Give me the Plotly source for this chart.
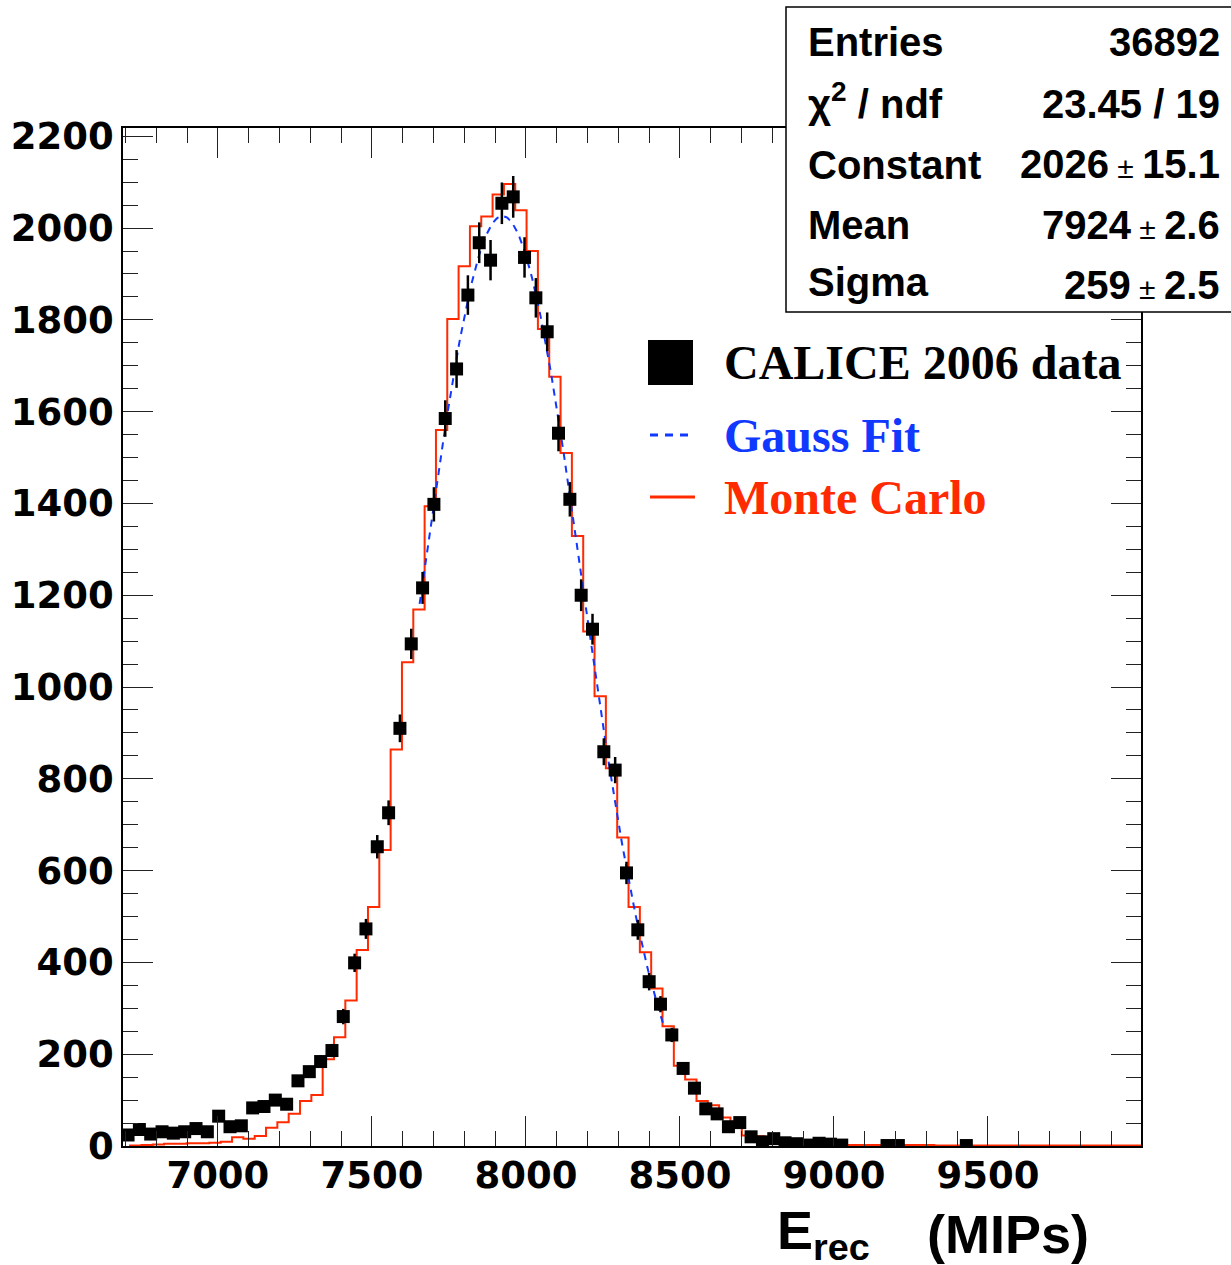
import math
import plotly.graph_objects as go

# ---------------- data ----------------
# CALICE data histogram: 90 bins between 6690 and 10000 MIPs
data_lo = 6690.0
data_hi = 10000.0
data_counts = [
    24, 36, 26, 31, 28, 31, 38, 31, 65, 42,
    44, 83, 86, 100, 91, 142, 162, 184, 208, 282,
    399, 473, 652, 726, 910, 1094, 1216, 1398, 1585, 1693,
    1854, 1968, 1930, 2054, 2068, 1936, 1848, 1774, 1553, 1409,
    1200, 1126, 859, 819, 595, 471, 358, 309, 242, 169,
    126, 81, 70, 42, 51, 20, 9, 16, 7, 5,
    2, 6, 4, 2, 0, 0, 0, 1, 1, 0,
    0, 0, 0, 0, 1, 0, 0, 0, 0, 0,
    0, 0, 0, 0, 0, 0, 0, 0, 0, 0,
]

# Monte Carlo histogram (same bin width, shifted start)
mc_lo = 6715.0
mc_counts = [
    1, 2, 3, 5, 5, 6, 6, 7, 9, 19,
    16, 22, 40, 52, 70, 98, 111, 189, 237, 317,
    427, 521, 645, 864, 1054, 1169, 1394, 1560, 1802, 1917,
    2004, 2025, 2073, 2096, 2039, 1950, 1780, 1676, 1510, 1329,
    1121, 980, 823, 672, 521, 422, 343, 261, 175, 145,
    98, 89, 62, 53, 23, 21, 8, 7, 5, 4,
    3, 3, 2, 2, 2, 2, 2, 2, 2, 2,
    2, 1, 1, 1, 1, 1, 1, 1, 1, 1,
    1, 1, 1, 1, 1, 1, 1, 1, 1, 1,
]

# Gaussian fit parameters (from the stats box)
fit_constant = 2026.0
fit_mean = 7924.0
fit_sigma = 259.0
fit_range = [7655.0, 8445.0]

x_range = [6692.0, 9997.0]
y_range = [0.0, 2218.0]
x_tickvals = [7000, 7500, 8000, 8500, 9000, 9500]
y_tickvals = [0, 200, 400, 600, 800, 1000, 1200, 1400, 1600, 1800, 2000, 2200]

stats_labels = ["Entries", "χ<sup>2</sup> / ndf", "Constant", "Mean", "Sigma"]
stats_main = ["36892", "23.45 / 19", "2026", "7924", "259"]
stats_err = [None, None, "15.1", "2.6", "2.5"]

legend_labels = ["CALICE 2006 data", "Gauss Fit", "Monte Carlo"]

RED = "#ff2a00"
BLUE = "#1038ff"

# ---------------- derived ----------------
nbins = len(data_counts)
bw = (data_hi - data_lo) / nbins
centers = [data_lo + bw * (i + 0.5) for i in range(nbins)]
dx = [c for c, n in zip(centers, data_counts) if n > 0]
dy = [n for n in data_counts if n > 0]
derr = [math.sqrt(n) for n in dy]

mc_edges = [mc_lo + bw * j for j in range(len(mc_counts) + 1)]
mc_x = [mc_edges[0]] + mc_edges
mc_y = [0] + mc_counts + [mc_counts[-1]]

nfit = 200
fx = [fit_range[0] + (fit_range[1] - fit_range[0]) * k / (nfit - 1) for k in range(nfit)]
fy = [fit_constant * math.exp(-0.5 * ((x - fit_mean) / fit_sigma) ** 2) for x in fx]

# ---------------- layout geometry ----------------
W, H = 1231, 1265
L, R, T, B = 123, 1141, 128, 1146
PW, PH = R - L, B - T


def px(xp):
    return (xp - L) / PW


def py(yp):
    return (B - yp) / PH


fig = go.Figure()

fig.add_trace(go.Scatter(
    x=mc_x, y=mc_y, mode="lines", line=dict(color=RED, width=2, shape="hv"),
    showlegend=False, hoverinfo="skip"))

fig.add_trace(go.Scatter(
    x=fx, y=fy, mode="lines", line=dict(color=BLUE, width=2, dash="7px,6px"),
    showlegend=False, hoverinfo="skip"))

fig.add_trace(go.Scatter(
    x=dx, y=dy, mode="markers",
    marker=dict(symbol="square", size=13, color="black"),
    error_y=dict(type="data", array=derr, visible=True, color="black", thickness=2.5, width=0),
    showlegend=False))

tickfont = dict(family="DejaVu Sans", size=37, color="black", weight="bold")

fig.update_xaxes(
    range=x_range, tickvals=x_tickvals, ticktext=[str(v) for v in x_tickvals],
    ticks="inside", ticklen=30, tickwidth=1, tickcolor="#222",
    minor=dict(dtick=100, tick0=0, ticks="inside", ticklen=15, tickwidth=1, tickcolor="#222"),
    showline=True, linecolor="black", linewidth=1.5, mirror="ticks",
    showgrid=False, zeroline=False, tickfont=tickfont, ticklabelstandoff=-4,
)
fig.update_yaxes(
    range=y_range, tickvals=y_tickvals, ticktext=[str(v) for v in y_tickvals],
    ticks="inside", ticklen=30, tickwidth=1, tickcolor="#222",
    minor=dict(dtick=50, tick0=0, ticks="inside", ticklen=15, tickwidth=1, tickcolor="#222"),
    showline=True, linecolor="black", linewidth=1.5, mirror="ticks",
    showgrid=False, zeroline=False, tickfont=tickfont, ticklabelstandoff=0,
)

shapes = []
annotations = []

# stats box
shapes.append(dict(type="rect", xref="paper", yref="paper",
                   x0=px(786), x1=px(1240), y0=py(312), y1=py(7),
                   line=dict(color="black", width=1.5), fillcolor="white", layer="above"))
stat_font = dict(family="Liberation Sans", size=40, color="black", weight="bold")
label_y = [42, 101, 165, 225, 282]
value_y = [42, 104, 164, 225, 285]
for lab, yy in zip(stats_labels, label_y):
    annotations.append(dict(xref="paper", yref="paper", x=px(806), y=py(yy),
                            xanchor="left", yanchor="middle", text=lab, showarrow=False,
                            font=stat_font))
for m, e, yy in zip(stats_main, stats_err, value_y):
    if e is None:
        txt = m
    else:
        txt = (m + "<span style='font-size:30px;font-weight:normal'> ± </span>" + e)
    annotations.append(dict(xref="paper", yref="paper", x=px(1222), y=py(yy),
                            xanchor="right", yanchor="middle", text=txt, showarrow=False,
                            font=stat_font))

# legend
leg_font = dict(family="Liberation Serif", size=48, weight="bold")
leg_y = [362, 435, 497]
leg_col = ["black", BLUE, RED]
shapes.append(dict(type="rect", xref="paper", yref="paper",
                   x0=px(648), x1=px(693), y0=py(385), y1=py(340),
                   line=dict(width=0), fillcolor="black", layer="above"))
shapes.append(dict(type="line", xref="paper", yref="paper",
                   x0=px(650), x1=px(692), y0=py(leg_y[1]), y1=py(leg_y[1]),
                   line=dict(color=BLUE, width=3, dash="8px,7px"), layer="above"))
shapes.append(dict(type="line", xref="paper", yref="paper",
                   x0=px(650), x1=px(695), y0=py(leg_y[2]), y1=py(leg_y[2]),
                   line=dict(color=RED, width=3), layer="above"))
for lab, yy, col in zip(legend_labels, leg_y, leg_col):
    f = dict(leg_font)
    f["color"] = col
    annotations.append(dict(xref="paper", yref="paper", x=px(722), y=py(yy),
                            xanchor="left", yanchor="middle", text=lab, showarrow=False,
                            font=f))

# axis title
title_font = dict(family="Liberation Sans", size=54, color="black", weight="bold")
annotations.append(dict(xref="paper", yref="paper", x=px(775), y=py(1234),
                        xanchor="left", yanchor="middle", text="E<sub>rec</sub>",
                        showarrow=False, font=title_font))
annotations.append(dict(xref="paper", yref="paper", x=px(925), y=py(1234),
                        xanchor="left", yanchor="middle", text="(MIPs)",
                        showarrow=False, font=title_font))

fig.update_layout(
    width=W, height=H, autosize=False,
    margin=dict(l=L, r=W - R, t=T, b=H - B, pad=0),
    paper_bgcolor="white", plot_bgcolor="white",
    shapes=shapes, annotations=annotations, showlegend=False,
)

fig.write_html("out.html")
